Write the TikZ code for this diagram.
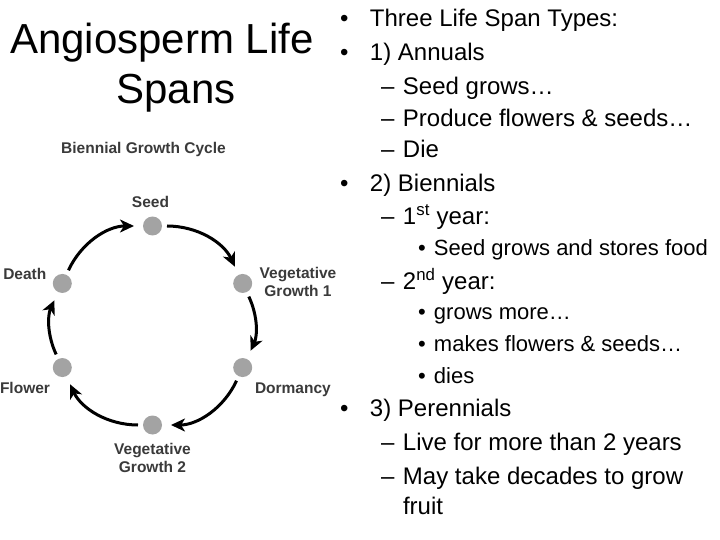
\documentclass[tikz,border=0pt]{standalone}
\usepackage{fontspec}
\setmainfont{Liberation Sans}
\usetikzlibrary{arrows.meta}
\definecolor{stagegray}{HTML}{A3A3A3}
\definecolor{lblgray}{HTML}{3A3A3A}
\begin{document}
\begin{tikzpicture}[x=1pt,y=1pt,
  every node/.style={inner sep=0pt, outer sep=0pt},
  stage/.style={circle, fill=stagegray, minimum size=19pt},
  lbl/.style={font=\fontsize{15.5}{18}\selectfont\bfseries, text=lblgray, align=center},
  cyc/.style={line width=3pt, -{Stealth[length=14pt,width=13pt,inset=4pt]},
              shorten <=5pt, shorten >=9pt, bend left=#1},
  title/.style={font=\fontsize{42}{48}\selectfont, anchor=base},
  lone/.style={anchor=base west, font=\fontsize{24}{28}\selectfont},
  ltwo/.style={anchor=base west, font=\fontsize{24}{28}\selectfont},
  lthree/.style={anchor=base west, font=\fontsize{22}{26}\selectfont},
]
\fill[white] (0,0) rectangle (720,-540);
\useasboundingbox (0,0) rectangle (720,-540);

% title
\node[title] (t1) at (162,-53.3) {Angiosperm Life};
\node[title] (t2) at (176,-103.3) {Spans};

% cycle diagram
\node[lbl, anchor=base] (ctitle) at (143.5,-153.3) {Biennial Growth Cycle};
\node[stage] (seed)   at (152.5,-226) {};
\node[stage] (vg1)    at (242.7,-283.45) {};
\node[stage] (dorm)   at (242.7,-367.55) {};
\node[stage] (vg2)    at (152.5,-425) {};
\node[stage] (flower) at (62.3,-367.55) {};
\node[stage] (death)  at (62.3,-283.45) {};

\node[lbl, anchor=base] (lseed) at (150.5,-207.3) {Seed};
\node[lbl] (lvg1) at (298,-282.3) {Vegetative\\Growth 1};
\node[lbl, anchor=base west] (ldorm) at (255,-393.3) {Dormancy};
\node[lbl] (lvg2) at (152.5,-458.4) {Vegetative\\Growth 2};
\node[lbl, anchor=base west] (lflower) at (0,-393.3) {Flower};
\node[lbl, anchor=base west] (ldeath) at (3.3,-279) {Death};

\draw[cyc=32.5] (seed) to (vg1);
\draw[cyc=25] (vg1) to (dorm);
\draw[cyc=32.5] (dorm) to (vg2);
\draw[cyc=32.5] (vg2) to (flower);
\draw[cyc=25] (flower) to (death);
\draw[cyc=32.5] (death) to (seed);

% bullet text
\node[lone] (b1) at (340,-26.5) {\makebox[30pt][l]{•}Three Life Span Types:};
\node[lone] (b2) at (340,-60.5) {\makebox[30pt][l]{•}1) Annuals};
\node[ltwo] (b3) at (381,-94.5) {\makebox[22pt][l]{–}Seed grows…};
\node[ltwo] (b4) at (381,-126.5) {\makebox[22pt][l]{–}Produce flowers \& seeds…};
\node[ltwo] (b5) at (381,-157.5) {\makebox[22pt][l]{–}Die};
\node[lone] (b6) at (340,-191.5) {\makebox[30pt][l]{•}2) Biennials};
\node[ltwo] (b7) at (381,-224.5) {\makebox[22pt][l]{–}1\textsuperscript{st} year:};
\node[lthree] (b8) at (418,-255) {\makebox[16pt][l]{•}Seed grows and stores food};
\node[ltwo] (b9) at (381,-289.5) {\makebox[22pt][l]{–}2\textsuperscript{nd} year:};
\node[lthree] (b10) at (418,-319) {\makebox[16pt][l]{•}grows more…};
\node[lthree] (b11) at (418,-351) {\makebox[16pt][l]{•}makes flowers \& seeds…};
\node[lthree] (b12) at (418,-383) {\makebox[16pt][l]{•}dies};
\node[lone] (b13) at (340,-416.5) {\makebox[30pt][l]{•}3) Perennials};
\node[ltwo] (b14) at (381,-450.5) {\makebox[22pt][l]{–}Live for more than 2 years};
\node[ltwo] (b15) at (381,-484.5) {\makebox[22pt][l]{–}May take decades to grow};
\node[ltwo] (b16) at (403,-514.5) {fruit};
\end{tikzpicture}
\end{document}
